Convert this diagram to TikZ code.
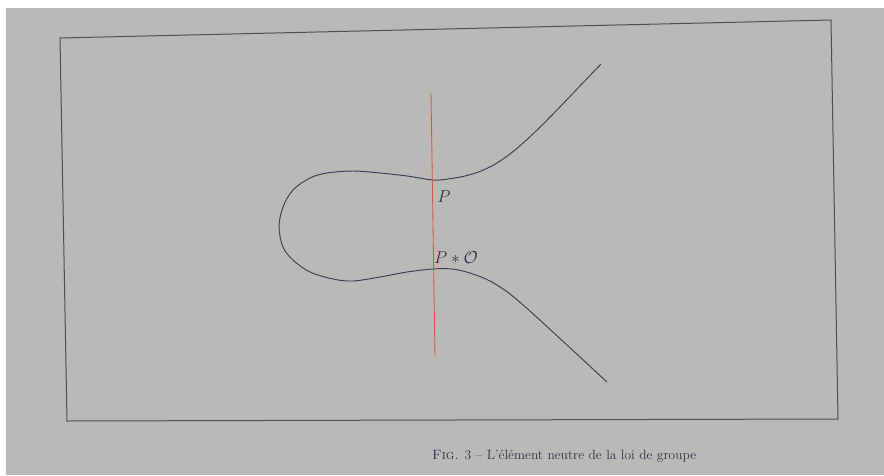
\documentclass[tikz,border=0pt]{standalone}
\usepackage{fontspec}
\usepackage{amsmath}
\definecolor{paper}{RGB}{186,185,184}
\definecolor{ink}{RGB}{62,62,82}
\definecolor{frameink}{RGB}{78,78,86}
\definecolor{redline}{RGB}{214,84,72}
\definecolor{textink}{RGB}{50,50,70}
\begin{document}
\begin{tikzpicture}[x=1pt,y=-1pt,
  curveline/.style={draw=ink, line width=0.95pt},
  frameline/.style={draw=frameink, line width=1pt},
  vertline/.style={draw=redline, line width=0.85pt},
  lab/.style={text=textink, inner sep=0pt, font=\fontsize{17}{20}\selectfont},
  captext/.style={text=textink, inner sep=0pt, anchor=west, font=\fontsize{13.5}{16}\selectfont}]
\useasboundingbox (0,0) rectangle (884,475);
\fill[white] (0,0) rectangle (884,475);
\fill[paper] (6,8) rectangle (884,475);
% frame
\coordinate (tl) at (60,38);
\coordinate (tr) at (831,20);
\coordinate (br) at (838,419);
\coordinate (bl) at (67,421);
\draw[frameline] (tl) -- (tr) -- (br) -- (bl) -- cycle;
% curve
\draw[curveline] plot[smooth, tension=0.55] coordinates {
 (601,64) (578,88) (556,111) (535,132) (515,150) (497,163) (481,171)
 (465,176) (448,179) (433,180) (407,176) (380,173) (353,171) (327,173)
 (310,178) (293,190) (283,207) (279,227) (283,247) (293,260) (310,272)
 (333,279) (353,281) (380,277) (407,272) (433,269) (452,269) (470,273)
 (490,281) (510,294) (531,312) (554,333) (580,357) (607,382)};
% vertical line
\coordinate (rtop) at (431,93);
\coordinate (rbot) at (435,356);
\draw[vertline] (rtop) -- (rbot);
% labels
\node[lab] (lP) at (444,197) {$P$};
\node[lab] (lPO) at (456,258) {$P*\mathcal{O}$};
\node[captext] (cap) at (432,456) {\textsc{Fig.} 3 -- L'élément neutre de la loi de groupe};
\end{tikzpicture}
\end{document}
